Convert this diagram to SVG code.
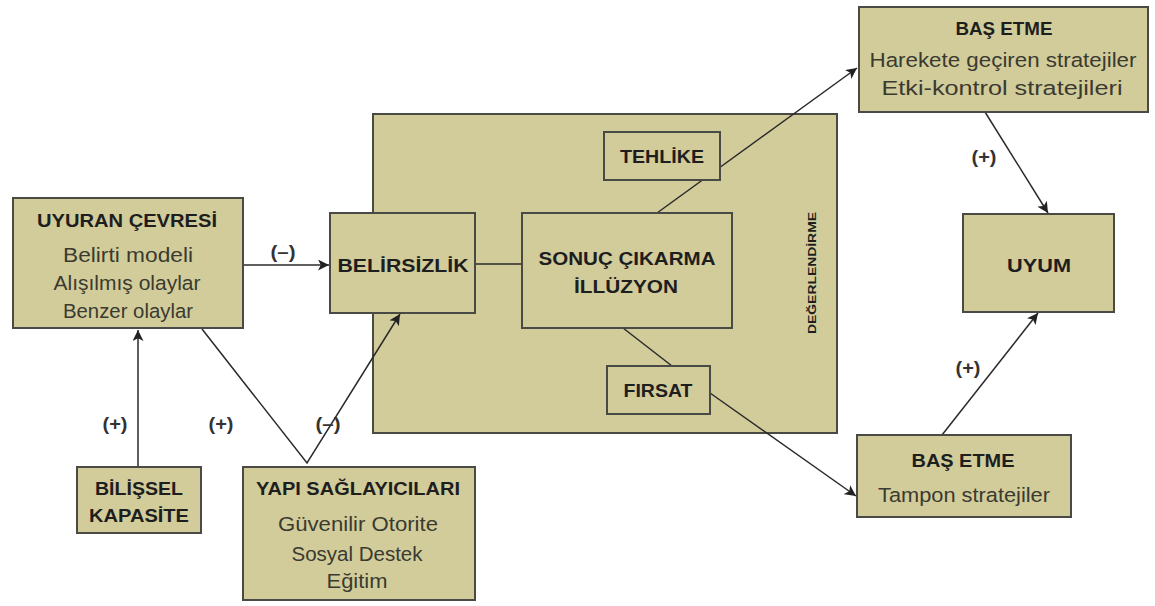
<svg xmlns="http://www.w3.org/2000/svg" width="1155" height="606" viewBox="0 0 1155 606">
<defs>
<marker id="ah" viewBox="0 0 10 10" refX="10" refY="5" markerWidth="11" markerHeight="11" markerUnits="userSpaceOnUse" orient="auto">
<path d="M0,0 L10,5 L0,10 L2.5,5 Z" fill="#222"/>
</marker>
</defs>
<style>
.box{fill:#d2cc9b;stroke:#4a4a44;stroke-width:2}
.t{font-family:"Liberation Sans",Arial,sans-serif;font-weight:bold;font-size:19px;fill:#1e1e1e;text-anchor:middle}
.b{font-family:"Liberation Sans",Arial,sans-serif;font-size:20.5px;fill:#3a3a30;text-anchor:middle}
.lbl{font-family:"Liberation Sans",Arial,sans-serif;font-weight:bold;font-size:18px;fill:#333;text-anchor:middle}
.ln{stroke:#2a2a2a;stroke-width:1.5;fill:none}
.v{font-family:"Liberation Sans",Arial,sans-serif;font-weight:bold;font-size:11.5px;fill:#1e1e1e;text-anchor:middle}
</style>
<rect width="1155" height="606" fill="#fff"/>
<g id="degerlendirme">
<rect class="box" x="373" y="114" width="464" height="319"/>
<text class="v" transform="translate(816,273) rotate(-90)" textLength="122" lengthAdjust="spacingAndGlyphs">DEĞERLENDİRME</text>
</g>
<g id="connectors">
<line class="ln" x1="243" y1="265" x2="329" y2="265" marker-end="url(#ah)"/>
<line class="ln" x1="138" y1="467" x2="138" y2="330" marker-end="url(#ah)"/>
<polyline class="ln" points="202,329 307,463 400,314" marker-end="url(#ah)"/>
<line class="ln" x1="475" y1="264" x2="522" y2="264"/>
<line class="ln" x1="657" y1="213" x2="857" y2="68" marker-end="url(#ah)"/>
<line class="ln" x1="623" y1="328" x2="672" y2="366"/>
<line class="ln" x1="710" y1="393" x2="856" y2="496" marker-end="url(#ah)"/>
<line class="ln" x1="985" y1="112" x2="1048" y2="213" marker-end="url(#ah)"/>
<line class="ln" x1="942" y1="435" x2="1038" y2="313" marker-end="url(#ah)"/>
<text class="lbl" x="283" y="258" textLength="25" lengthAdjust="spacingAndGlyphs">(–)</text>
<text class="lbl" x="115" y="430" textLength="25" lengthAdjust="spacingAndGlyphs">(+)</text>
<text class="lbl" x="221" y="430" textLength="25" lengthAdjust="spacingAndGlyphs">(+)</text>
<text class="lbl" x="328" y="430" textLength="25" lengthAdjust="spacingAndGlyphs">(–)</text>
<text class="lbl" x="984" y="163" textLength="25" lengthAdjust="spacingAndGlyphs">(+)</text>
<text class="lbl" x="968" y="374" textLength="25" lengthAdjust="spacingAndGlyphs">(+)</text>
</g>
<g id="uyuran">
<rect class="box" x="13" y="198" width="230" height="130"/>
<text class="t" x="127" y="227" textLength="180" lengthAdjust="spacingAndGlyphs">UYURAN ÇEVRESİ</text>
<text class="b" x="128" y="262" textLength="130" lengthAdjust="spacingAndGlyphs">Belirti modeli</text>
<text class="b" x="127" y="290" textLength="147" lengthAdjust="spacingAndGlyphs">Alışılmış olaylar</text>
<text class="b" x="128" y="318" textLength="130" lengthAdjust="spacingAndGlyphs">Benzer olaylar</text>
</g>
<g id="belirsizlik">
<rect class="box" x="330" y="213" width="145" height="100"/>
<text class="t" x="403" y="272" textLength="131" lengthAdjust="spacingAndGlyphs">BELİRSİZLİK</text>
</g>
<g id="sonuc">
<rect class="box" x="522" y="213" width="210" height="115"/>
<text class="t" x="627" y="265" textLength="177" lengthAdjust="spacingAndGlyphs">SONUÇ ÇIKARMA</text>
<text class="t" x="626" y="293" textLength="104" lengthAdjust="spacingAndGlyphs">İLLÜZYON</text>
</g>
<g id="tehlike">
<rect class="box" x="604" y="132" width="116" height="48"/>
<text class="t" x="662" y="163" textLength="84" lengthAdjust="spacingAndGlyphs">TEHLİKE</text>
</g>
<g id="firsat">
<rect class="box" x="607" y="366" width="103" height="48"/>
<text class="t" x="658" y="397" textLength="69" lengthAdjust="spacingAndGlyphs">FIRSAT</text>
</g>
<g id="basetme1">
<rect class="box" x="859" y="7" width="289" height="105"/>
<text class="t" x="1004" y="35" textLength="97" lengthAdjust="spacingAndGlyphs">BAŞ ETME</text>
<text class="b" x="1003" y="67" textLength="267" lengthAdjust="spacingAndGlyphs">Harekete geçiren stratejiler</text>
<text class="b" x="1002" y="95" textLength="241" lengthAdjust="spacingAndGlyphs">Etki-kontrol stratejileri</text>
</g>
<g id="basetme2">
<rect class="box" x="857" y="435" width="214" height="82"/>
<text class="t" x="963" y="467" textLength="103" lengthAdjust="spacingAndGlyphs">BAŞ ETME</text>
<text class="b" x="964" y="502" textLength="172" lengthAdjust="spacingAndGlyphs">Tampon stratejiler</text>
</g>
<g id="uyum">
<rect class="box" x="963" y="214" width="151" height="98"/>
<text class="t" x="1039" y="272" textLength="64" lengthAdjust="spacingAndGlyphs">UYUM</text>
</g>
<g id="bilissel">
<rect class="box" x="77" y="467" width="124" height="66"/>
<text class="t" x="139" y="495" textLength="88" lengthAdjust="spacingAndGlyphs">BİLİŞSEL</text>
<text class="t" x="139" y="522" textLength="100" lengthAdjust="spacingAndGlyphs">KAPASİTE</text>
</g>
<g id="yapi">
<rect class="box" x="243" y="467" width="232" height="133"/>
<text class="t" x="358" y="495" textLength="204" lengthAdjust="spacingAndGlyphs">YAPI SAĞLAYICILARI</text>
<text class="b" x="358" y="531" textLength="160" lengthAdjust="spacingAndGlyphs">Güvenilir Otorite</text>
<text class="b" x="357" y="561" textLength="131" lengthAdjust="spacingAndGlyphs">Sosyal Destek</text>
<text class="b" x="357" y="588" textLength="61" lengthAdjust="spacingAndGlyphs">Eğitim</text>
</g>
</svg>
